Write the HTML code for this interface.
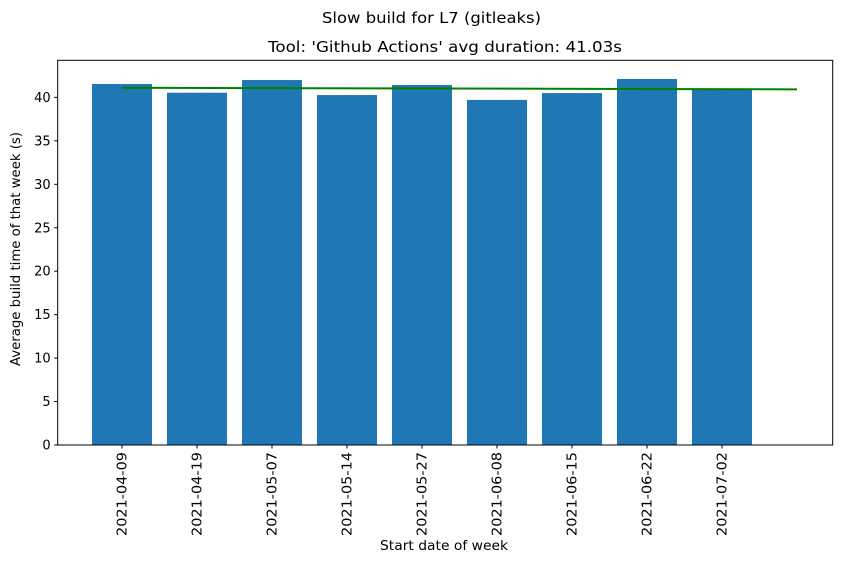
<!DOCTYPE html>
<html><head><meta charset="utf-8"><style>
body{margin:0;background:#fff;}
svg{display:block;font-family:"DejaVu Sans","Liberation Sans",sans-serif;}
</style></head><body>
<svg id="chart" width="841" height="564" viewBox="0 0 841 564" xmlns="http://www.w3.org/2000/svg">
<text x="431.5" y="23" font-size="15" text-anchor="middle" textLength="219" lengthAdjust="spacingAndGlyphs" fill="#000">Slow build for L7 (gitleaks)</text>
<text x="445" y="52" font-size="15" text-anchor="middle" textLength="354" lengthAdjust="spacingAndGlyphs" fill="#000">Tool: 'Github Actions' avg duration: 41.03s</text>
<g id="bars"></g>
<g id="trend"></g>
<rect x="57.7" y="60.3" width="775" height="384.7" fill="none" stroke="#000" stroke-width="1"/>
<g id="yticks"></g>
<g id="xticks"></g>
<text transform="translate(20,249) rotate(-90)" font-size="13.5" text-anchor="middle" textLength="234" lengthAdjust="spacingAndGlyphs">Average build time of that week (s)</text>
<text x="444" y="550" font-size="13" text-anchor="middle" textLength="128" lengthAdjust="spacingAndGlyphs">Start date of week</text>
</svg>
<script>
const categories=["2021-04-09","2021-04-19","2021-05-07","2021-05-14","2021-05-27","2021-06-08","2021-06-15","2021-06-22","2021-07-02"];
const values=[41.54,40.54,42.0,40.27,41.43,39.71,40.5,42.12,40.9];
const trendStart=41.11;
const trendEnd=40.93;
const yTicks=[0,5,10,15,20,25,30,35,40];
const NS="http://www.w3.org/2000/svg";
const L=57.7,R=832.7,T=60.3,B=445;
const xmin=-0.857,xmax=9.476,ymin=0,ymax=44.27;
const x=i=>L+(i-xmin)/(xmax-xmin)*(R-L);
const y=v=>B-(v-ymin)/(ymax-ymin)*(B-T);
function mk(t,a,p){const e=document.createElementNS(NS,t);for(const k in a)e.setAttribute(k,a[k]);p.appendChild(e);return e;}
const bw=x(0.4)-x(-0.4);
const bars=document.getElementById('bars');
values.forEach((v,i)=>{const r=mk('rect',{x:x(i)-bw/2,y:y(v),width:bw,height:y(0)-y(v),fill:'#1f77b4'},bars);

});
const tg=document.getElementById('trend');
const ln=mk('line',{x1:x(0),y1:y(trendStart),x2:x(categories.length),y2:y(trendEnd),stroke:'#008000','stroke-width':2},tg);


const yg=document.getElementById('yticks');
yTicks.forEach(t=>{const l=mk('line',{x1:L-3.5,x2:L,y1:y(t),y2:y(t),stroke:'#000'},yg);


const tx=mk('text',{x:L-7,y:y(t)+4.5,'font-size':13,'text-anchor':'end'},yg);tx.textContent=t;

});
const xg=document.getElementById('xticks');
categories.forEach((c,i)=>{const l=mk('line',{x1:x(i),x2:x(i),y1:B,y2:B+3.5,stroke:'#000'},xg);


const tx=mk('text',{transform:`translate(${x(i)+4.5},${B+7}) rotate(-90)`,'font-size':13,'text-anchor':'end',textLength:84,lengthAdjust:'spacingAndGlyphs'},xg);tx.textContent=c;

});
</script>
</body></html>
